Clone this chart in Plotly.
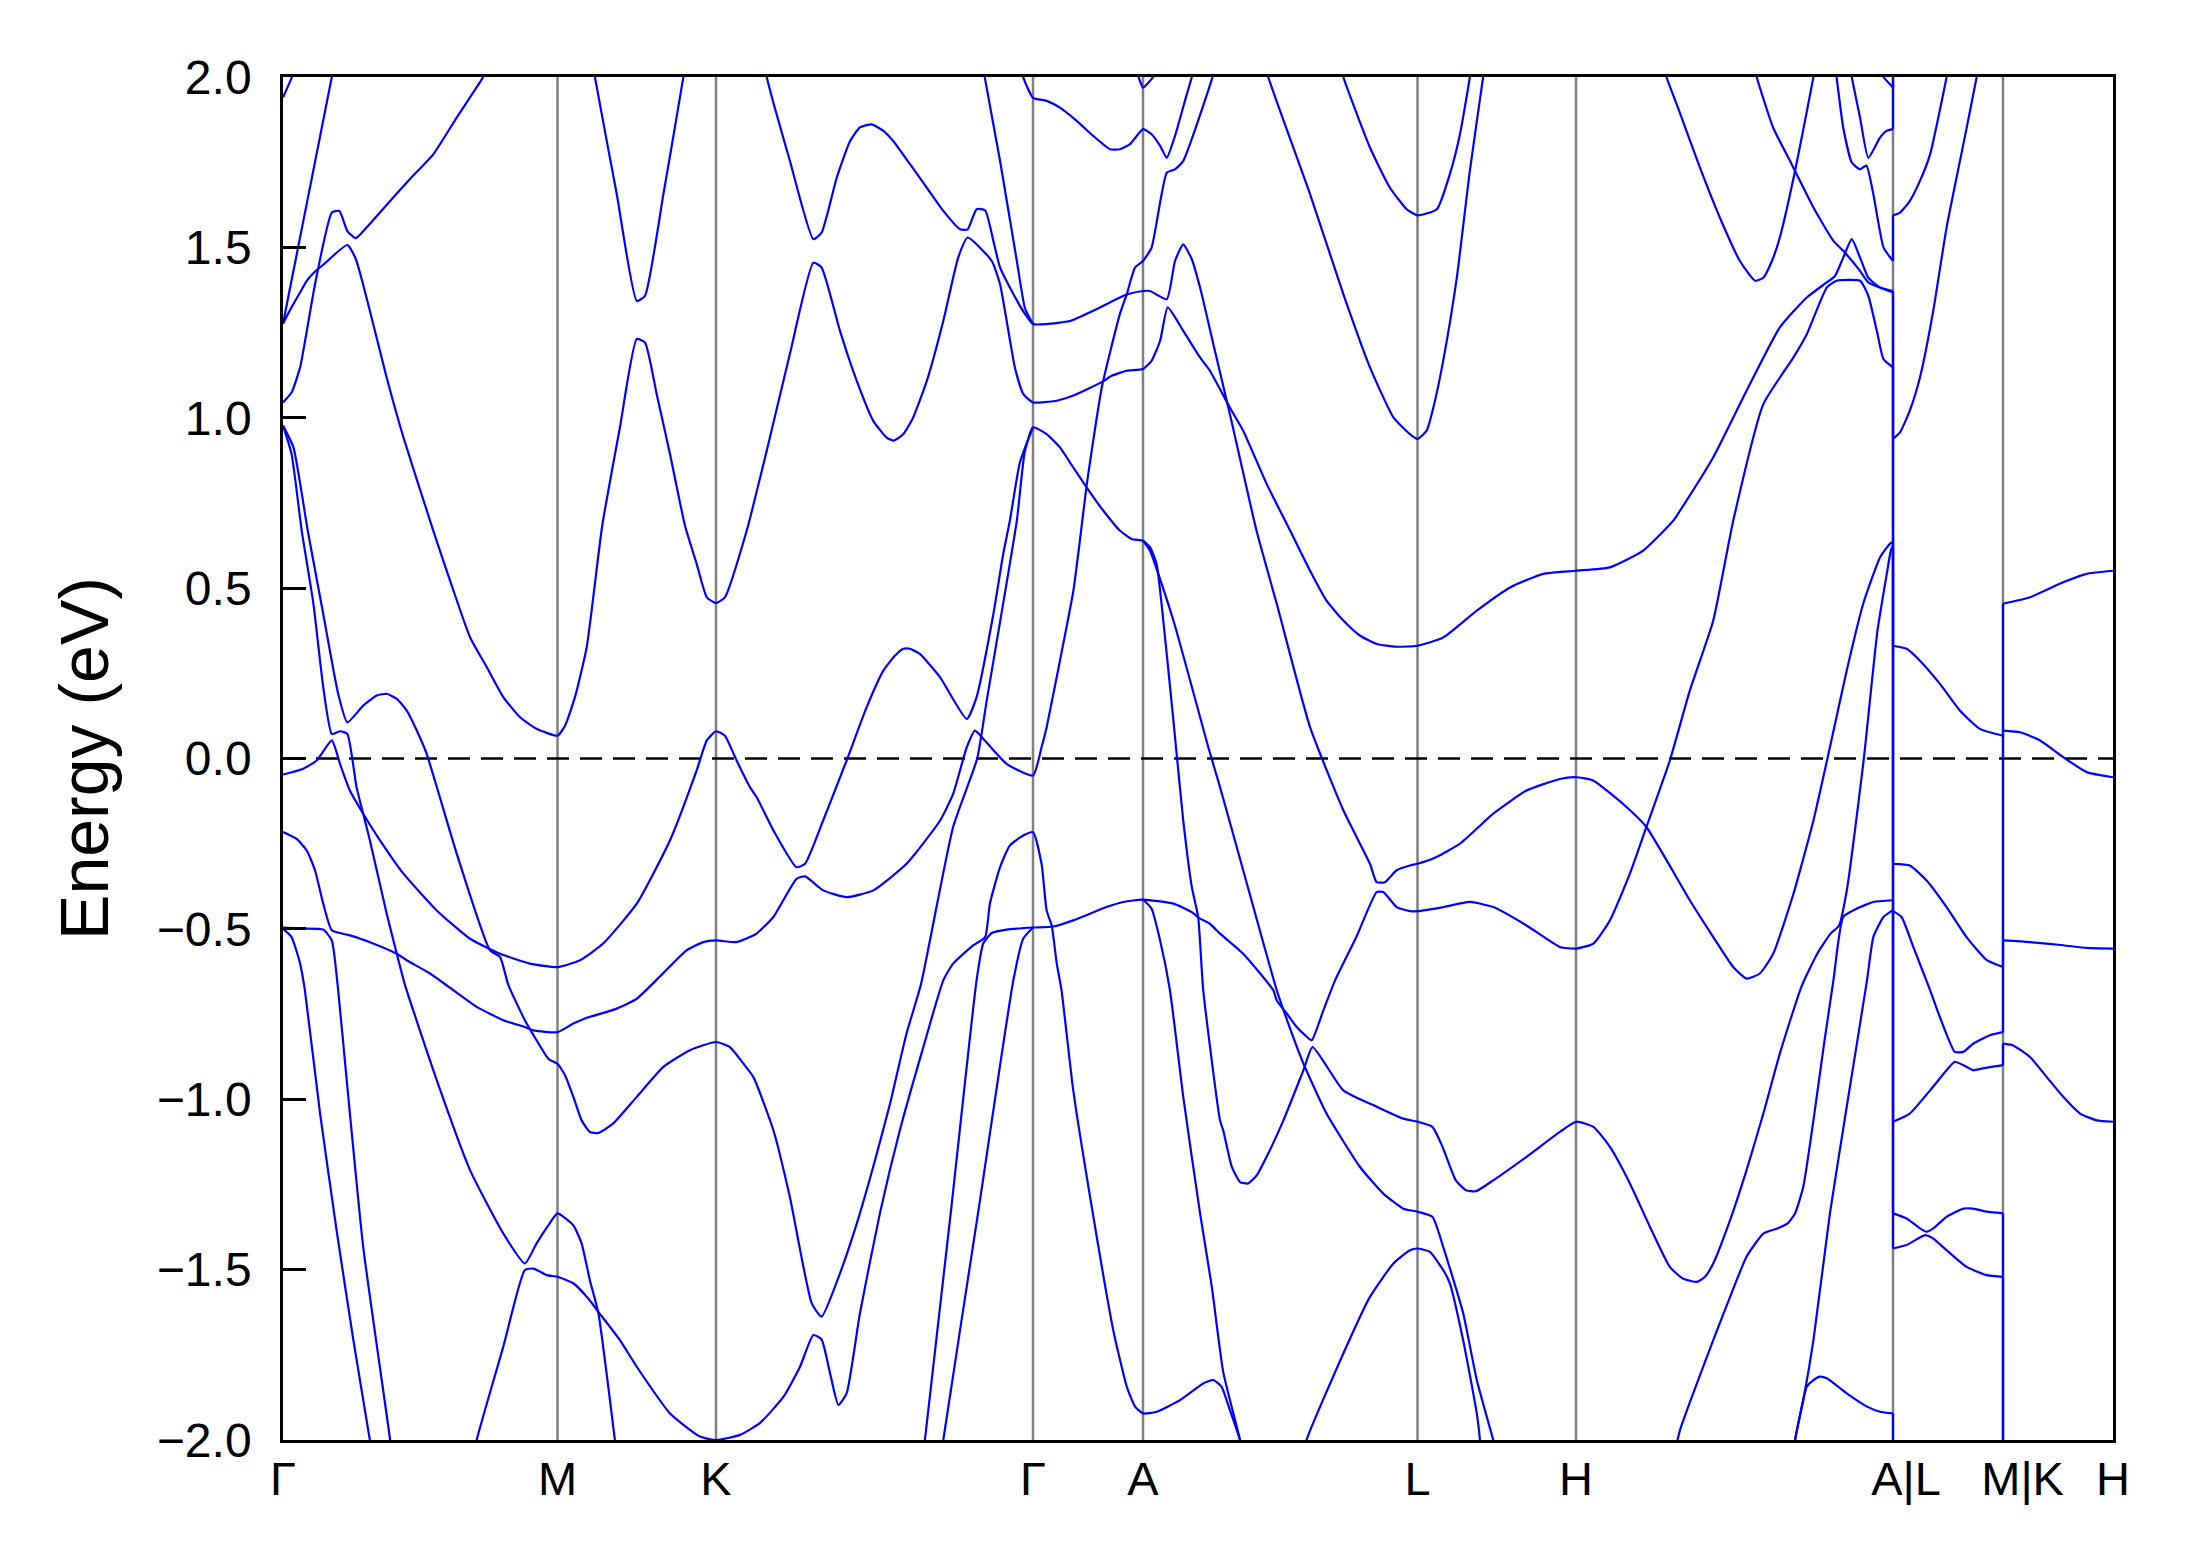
import plotly.graph_objects as go

# ---- high-symmetry path (k-distance, units of |Gamma-K| = 1) ----
tick_k = [0.0, 0.866, 1.366, 2.366, 2.713, 3.579, 4.079, 5.079, 5.426, 5.773]
tick_labels = ["Γ", "M", "K", "Γ", "A", "L", "H", "\u00a0\u00a0A|L", "\u00a0\u00a0\u00a0M|K", "H"]
y_ticks = [-2.0, -1.5, -1.0, -0.5, 0.0, 0.5, 1.0, 1.5, 2.0]
y_labels = ["−2.0", "−1.5", "−1.0", "−0.5", "0.0", "0.5", "1.0", "1.5", "2.0"]

# ---- band curves: (k, E in eV) ----
c01 = [(0.0, 1.94), (0.028, 2.0), (0.05, 2.08)]
c02 = [(0.0, 1.276), (0.154, 2.0), (0.168, 2.08)]
c03 = [(0.0, 1.276), (0.024, 1.319), (0.054, 1.368), (0.075, 1.402), (0.101, 1.429), (0.127, 1.449), (0.203, 1.507),
       (0.230, 1.465), (0.274, 1.314), (0.327, 1.118), (0.380, 0.942), (0.474, 0.669), (0.527, 0.522), (0.590, 0.356),
       (0.643, 0.268), (0.695, 0.180), (0.748, 0.121), (0.800, 0.087), (0.866, 0.067), (0.890, 0.097), (0.921, 0.180),
       (0.958, 0.326), (1.007, 0.683), (1.063, 0.972), (1.116, 1.231), (1.142, 1.221), (1.179, 1.069), (1.221, 0.893),
       (1.268, 0.684), (1.305, 0.571), (1.337, 0.473), (1.366, 0.456), (1.394, 0.473), (1.463, 0.669), (1.526, 0.903),
       (1.599, 1.187), (1.673, 1.455), (1.699, 1.441), (1.757, 1.255), (1.810, 1.108), (1.862, 0.991), (1.904, 0.942),
       (1.927, 0.933), (1.957, 0.952), (1.988, 1.001), (2.031, 1.108), (2.083, 1.284), (2.130, 1.470), (2.160, 1.529),
       (2.236, 1.460), (2.262, 1.392), (2.283, 1.284), (2.309, 1.147), (2.335, 1.070), (2.366, 1.045), (2.441, 1.050),
       (2.493, 1.065), (2.586, 1.106), (2.614, 1.123), (2.662, 1.138), (2.713, 1.143), (2.740, 1.167), (2.767, 1.226),
       (2.791, 1.324), (2.840, 1.255), (2.893, 1.177), (2.924, 1.138), (2.987, 1.030), (3.029, 0.962), (3.103, 0.806),
       (3.177, 0.669), (3.240, 0.551), (3.292, 0.463), (3.345, 0.405), (3.397, 0.361), (3.450, 0.336), (3.513, 0.328),
       (3.579, 0.331), (3.660, 0.355), (3.766, 0.434), (3.871, 0.502), (3.976, 0.542), (4.079, 0.551), (4.186, 0.561),
       (4.291, 0.61), (4.386, 0.698), (4.407, 0.727), (4.512, 0.884), (4.617, 1.079), (4.722, 1.265), (4.807, 1.353),
       (4.870, 1.397), (4.896, 1.416), (4.922, 1.470), (4.949, 1.524), (4.975, 1.470), (5.001, 1.411), (5.038, 1.382),
       (5.079, 1.368)]
c04 = [(0.0, 1.045), (0.027, 1.074), (0.054, 1.148), (0.077, 1.265), (0.101, 1.392), (0.154, 1.602), (0.178, 1.607),
       (0.203, 1.548), (0.230, 1.527), (0.27, 1.565), (0.338, 1.636), (0.40, 1.70), (0.474, 1.773), (0.548, 1.881),
       (0.627, 1.993), (0.65, 2.03)]
c05 = [(0.0, 0.977), (0.027, 0.894), (0.059, 0.669), (0.096, 0.454), (0.127, 0.209), (0.154, 0.072), (0.180, 0.080),
       (0.203, 0.072), (0.232, -0.084), (0.253, -0.162), (0.274, -0.240), (0.327, -0.455), (0.359, -0.573),
       (0.385, -0.665), (0.485, -0.944), (0.590, -1.208), (0.695, -1.394), (0.763, -1.482), (0.800, -1.423),
       (0.837, -1.370), (0.866, -1.335), (0.916, -1.370), (0.942, -1.423), (0.968, -1.531), (0.995, -1.628),
       (1.047, -2.0), (1.06, -2.1)]
c06 = [(0.0, 0.977), (0.033, 0.913), (0.078, 0.669), (0.127, 0.424), (0.174, 0.190), (0.203, 0.106), (0.253, 0.155),
       (0.296, 0.185), (0.327, 0.190), (0.359, 0.175), (0.390, 0.141), (0.422, 0.082), (0.453, 0.014), (0.548, -0.279),
       (0.653, -0.563), (0.685, -0.583), (0.711, -0.665), (0.763, -0.768), (0.800, -0.827), (0.837, -0.881),
       (0.866, -0.896), (0.890, -0.930), (0.916, -0.993), (0.942, -1.062), (0.968, -1.096), (0.995, -1.099),
       (1.042, -1.071), (1.116, -0.993), (1.200, -0.905), (1.284, -0.856), (1.366, -0.832), (1.410, -0.847),
       (1.452, -0.895), (1.484, -0.935), (1.547, -1.091), (1.599, -1.287), (1.668, -1.599), (1.699, -1.638),
       (1.757, -1.511), (1.810, -1.365), (1.862, -1.198), (1.915, -1.013), (1.967, -0.807), (2.012, -0.665),
       (2.114, -0.201), (2.19, 0.0), (2.220, 0.17), (2.315, 0.698), (2.340, 0.90), (2.366, 0.972), (2.409, 0.952),
       (2.451, 0.913), (2.493, 0.854), (2.535, 0.796), (2.588, 0.727), (2.640, 0.669), (2.677, 0.644), (2.713, 0.639),
       (2.735, 0.620), (2.756, 0.571), (2.777, 0.405), (2.809, 0.111), (2.840, -0.182), (2.867, -0.377),
       (2.887, -0.465), (2.903, -0.680), (2.956, -1.062), (2.966, -1.091), (2.993, -1.198), (3.019, -1.243),
       (3.045, -1.247), (3.072, -1.223), (3.103, -1.169), (3.156, -1.062), (3.219, -0.915), (3.248, -0.847),
       (3.345, -0.974), (3.450, -1.022), (3.534, -1.057), (3.579, -1.066), (3.626, -1.081), (3.658, -1.140),
       (3.700, -1.238), (3.732, -1.267), (3.763, -1.27), (3.818, -1.238), (3.923, -1.169), (4.028, -1.096),
       (4.079, -1.066), (4.134, -1.081), (4.186, -1.140), (4.249, -1.247), (4.312, -1.374), (4.375, -1.492),
       (4.416, -1.526), (4.460, -1.536), (4.486, -1.521), (4.512, -1.482), (4.565, -1.355), (4.617, -1.208),
       (4.670, -1.042), (4.722, -0.866), (4.790, -0.67), (4.840, -0.573), (4.882, -0.514), (4.909, -0.490),
       (4.935, -0.377), (4.987, 0.0), (5.030, 0.375), (5.061, 0.551), (5.072, 0.61), (5.079, 0.625)]
c07 = [(0.0, -0.047), (0.064, -0.030), (0.106, -0.006), (0.154, 0.053), (0.180, -0.016), (0.211, -0.094),
       (0.253, -0.162), (0.306, -0.240), (0.380, -0.338), (0.485, -0.446), (0.590, -0.529), (0.685, -0.573),
       (0.779, -0.602), (0.866, -0.612), (0.937, -0.592), (1.010, -0.543), (1.116, -0.426), (1.221, -0.240),
       (1.305, -0.035), (1.337, 0.053), (1.366, 0.080), (1.394, 0.067), (1.431, -0.006), (1.473, -0.084),
       (1.494, -0.113), (1.547, -0.211), (1.620, -0.319), (1.647, -0.309), (1.704, -0.182), (1.778, -0.006),
       (1.841, 0.150), (1.894, 0.258), (1.931, 0.302), (1.957, 0.322), (1.978, 0.322), (2.009, 0.307), (2.073, 0.238),
       (2.157, 0.116), (2.188, 0.180), (2.241, 0.424), (2.272, 0.600), (2.293, 0.698), (2.325, 0.87), (2.366, 0.972)]
c08 = [(0.0, -0.216), (0.043, -0.236), (0.075, -0.270), (0.101, -0.328), (0.127, -0.426), (0.154, -0.504),
       (0.211, -0.519), (0.274, -0.539), (0.359, -0.573), (0.390, -0.592), (0.464, -0.631), (0.611, -0.729),
       (0.695, -0.768), (0.763, -0.788), (0.790, -0.798), (0.866, -0.803), (0.916, -0.778), (0.953, -0.763),
       (1.053, -0.734), (1.116, -0.705), (1.189, -0.640), (1.273, -0.563), (1.326, -0.539), (1.366, -0.534),
       (1.431, -0.539), (1.473, -0.524), (1.494, -0.514), (1.547, -0.465), (1.620, -0.353), (1.647, -0.346),
       (1.704, -0.387), (1.778, -0.407), (1.862, -0.387), (1.967, -0.309), (2.073, -0.182), (2.114, -0.104),
       (2.157, 0.033), (2.183, 0.082), (2.209, 0.058), (2.283, -0.016), (2.366, -0.050), (2.393, 0.033),
       (2.409, 0.092), (2.451, 0.287), (2.493, 0.49), (2.514, 0.64), (2.535, 0.80), (2.583, 1.089), (2.640, 1.304),
       (2.662, 1.363), (2.688, 1.441), (2.713, 1.460), (2.740, 1.499), (2.788, 1.719), (2.814, 1.729),
       (2.840, 1.754), (2.930, 1.993), (2.94, 2.03)]
c09 = [(0.0, -0.496), (0.064, -0.499), (0.127, -0.502), (0.154, -0.534), (0.174, -0.680), (0.201, -0.944),
       (0.253, -1.433), (0.338, -2.0), (0.345, -2.06)]
c10 = [(0.0, -0.50), (0.027, -0.524), (0.054, -0.602), (0.069, -0.680), (0.117, -1.042), (0.169, -1.384),
       (0.222, -1.707), (0.274, -2.0), (0.282, -2.05)]
c11 = [(0.600, -2.06), (0.611, -2.0), (0.695, -1.726), (0.763, -1.501), (0.790, -1.497), (0.832, -1.516),
       (0.866, -1.521), (0.916, -1.540), (0.963, -1.585), (0.995, -1.624), (1.063, -1.707), (1.116, -1.785),
       (1.221, -1.922), (1.315, -1.990), (1.366, -2.0), (1.442, -1.985), (1.505, -1.95), (1.579, -1.873),
       (1.631, -1.785), (1.673, -1.692), (1.699, -1.705), (1.726, -1.805), (1.752, -1.897), (1.778, -1.863),
       (1.820, -1.628), (1.883, -1.335), (1.946, -1.091), (2.020, -0.847), (2.083, -0.651), (2.114, -0.602),
       (2.178, -0.548), (2.215, -0.524), (2.230, -0.426), (2.262, -0.319), (2.293, -0.255), (2.335, -0.226),
       (2.366, -0.216), (2.393, -0.309), (2.409, -0.446), (2.425, -0.49), (2.441, -0.602), (2.456, -0.680),
       (2.493, -0.974), (2.546, -1.286), (2.619, -1.677), (2.662, -1.844), (2.688, -1.902), (2.713, -1.922),
       (2.756, -1.917), (2.830, -1.883), (2.903, -1.834), (2.935, -1.824), (2.961, -1.844), (2.987, -1.912),
       (3.019, -2.0), (3.03, -2.05)]
c12 = [(2.02, -2.05), (2.025, -2.0), (2.107, -1.33), (2.188, -0.651), (2.209, -0.543), (2.236, -0.512),
       (2.283, -0.502), (2.366, -0.496), (2.430, -0.493), (2.493, -0.475), (2.598, -0.436), (2.651, -0.421),
       (2.713, -0.414), (2.809, -0.426), (2.867, -0.451), (2.893, -0.470), (2.924, -0.485), (2.956, -0.514),
       (3.029, -0.573), (3.124, -0.680), (3.135, -0.710), (3.167, -0.749), (3.198, -0.788), (3.224, -0.812),
       (3.245, -0.827), (3.282, -0.739), (3.319, -0.651), (3.386, -0.524), (3.450, -0.392), (3.471, -0.392),
       (3.513, -0.436), (3.555, -0.448), (3.579, -0.448), (3.660, -0.436), (3.744, -0.421), (3.818, -0.436),
       (3.923, -0.490), (4.028, -0.553), (4.079, -0.558), (4.134, -0.543), (4.186, -0.475), (4.249, -0.338),
       (4.301, -0.201), (4.375, -0.006), (4.438, 0.199), (4.512, 0.405), (4.575, 0.698), (4.670, 1.040),
       (4.765, 1.177), (4.807, 1.245), (4.870, 1.382), (4.901, 1.402), (4.975, 1.402), (5.001, 1.358),
       (5.028, 1.255), (5.049, 1.172), (5.079, 1.148)]
c13 = [(2.713, -0.414), (2.740, -0.441), (2.767, -0.534), (2.798, -0.680), (2.840, -0.993), (2.893, -1.335),
       (2.93, -1.55), (2.966, -1.80), (3.019, -2.0), (3.03, -2.06)]
c16 = [(0.975, 2.06), (0.984, 2.0), (1.053, 1.656), (1.116, 1.343), (1.142, 1.358), (1.200, 1.656), (1.263, 2.0),
       (1.27, 2.05)]
c17 = [(1.515, 2.06), (1.526, 2.0), (1.599, 1.754), (1.673, 1.524), (1.699, 1.543), (1.747, 1.705), (1.789, 1.812),
       (1.820, 1.852), (1.857, 1.861), (1.894, 1.842), (1.925, 1.812), (1.978, 1.744), (2.031, 1.675),
       (2.083, 1.607), (2.136, 1.553), (2.160, 1.553), (2.188, 1.612), (2.215, 1.609), (2.241, 1.519),
       (2.262, 1.441), (2.304, 1.363), (2.341, 1.304), (2.366, 1.275), (2.409, 1.275), (2.483, 1.284),
       (2.556, 1.314), (2.640, 1.353), (2.667, 1.363), (2.713, 1.372), (2.735, 1.372), (2.788, 1.348),
       (2.814, 1.460), (2.840, 1.509), (2.867, 1.465), (2.893, 1.382), (2.935, 1.216), (2.987, 1.011),
       (3.071, 0.669), (3.135, 0.454), (3.240, 0.092), (3.345, -0.152), (3.429, -0.309), (3.450, -0.363),
       (3.476, -0.363), (3.513, -0.328), (3.555, -0.314), (3.579, -0.309), (3.639, -0.289), (3.713, -0.250),
       (3.818, -0.162), (3.923, -0.094), (4.028, -0.060), (4.079, -0.055), (4.134, -0.065), (4.239, -0.143),
       (4.301, -0.201), (4.438, -0.416), (4.512, -0.524), (4.575, -0.612), (4.617, -0.646), (4.659, -0.631),
       (4.701, -0.573), (4.765, -0.397), (4.828, -0.182), (4.880, 0.033), (4.933, 0.258), (4.985, 0.454),
       (5.038, 0.590), (5.069, 0.63), (5.079, 0.635)]
c18 = [(2.205, 2.06), (2.215, 1.993), (2.262, 1.754), (2.315, 1.460), (2.341, 1.32), (2.366, 1.275)]
c19 = [(2.325, 2.06), (2.335, 2.0), (2.366, 1.939), (2.409, 1.930), (2.451, 1.910), (2.504, 1.871), (2.556, 1.827),
       (2.609, 1.788), (2.640, 1.788), (2.672, 1.803), (2.713, 1.847), (2.740, 1.832), (2.767, 1.798),
       (2.788, 1.763), (2.814, 1.827), (2.851, 1.949), (2.867, 2.0), (2.875, 2.05)]
c20 = [(2.69, 2.02), (2.699, 2.0), (2.713, 1.969), (2.745, 2.0), (2.755, 2.02)]
c21 = [(2.075, -2.06), (2.083, -2.0), (2.194, -1.326), (2.304, -0.651), (2.335, -0.529), (2.366, -0.496)]
c24 = [(3.33, 2.06), (3.345, 2.0), (3.429, 1.793), (3.492, 1.675), (3.545, 1.612), (3.579, 1.594), (3.640, 1.612),
       (3.681, 1.715), (3.713, 1.832), (3.744, 2.0), (3.75, 2.05)]
c25 = [(3.095, 2.05), (3.108, 2.0), (3.240, 1.656), (3.345, 1.363), (3.429, 1.148), (3.503, 1.001), (3.555, 0.952),
       (3.579, 0.938), (3.608, 0.962), (3.629, 1.030), (3.660, 1.167), (3.703, 1.411), (3.744, 1.724),
       (3.786, 2.0), (3.793, 2.05)]
c26 = [(4.35, 2.04), (4.364, 2.0), (4.407, 1.894), (4.470, 1.734), (4.533, 1.587), (4.596, 1.460), (4.644, 1.402),
       (4.670, 1.411), (4.697, 1.460), (4.722, 1.529), (4.770, 1.724), (4.828, 2.0), (4.835, 2.04)]
c27 = [(4.64, 2.04), (4.649, 2.0), (4.701, 1.851), (4.754, 1.754), (4.770, 1.724), (4.828, 1.617), (4.891, 1.519),
       (4.922, 1.490), (4.975, 1.431), (5.001, 1.397), (5.038, 1.382), (5.079, 1.372)]
c28 = [(4.897, 2.03), (4.901, 2.0), (4.922, 1.851), (4.949, 1.749), (4.975, 1.729), (4.995, 1.74), (5.017, 1.656),
       (5.049, 1.5), (5.079, 1.46)]
c29 = [(4.945, 2.03), (4.949, 2.0), (4.975, 1.881), (5.001, 1.763), (5.038, 1.822), (5.059, 1.842), (5.079, 1.847)]
c30 = [(5.04, 2.02), (5.049, 2.0), (5.079, 1.969)]
c31 = [(4.39, -2.04), (4.407, -1.971), (4.512, -1.707), (4.565, -1.580), (4.617, -1.462), (4.670, -1.394),
       (4.714, -1.379), (4.746, -1.365), (4.770, -1.335), (4.796, -1.257), (4.828, -1.062), (4.860, -0.847),
       (4.891, -0.651), (4.922, -0.465), (4.964, -0.441), (5.017, -0.421), (5.079, -0.416)]
c32 = [(4.765, -2.04), (4.770, -2.0), (4.796, -1.883), (4.828, -1.707), (4.880, -1.335), (4.933, -1.022),
       (4.997, -0.651), (5.017, -0.524), (5.049, -0.465), (5.079, -0.445)]
c33 = [(2.713, 0.639), (2.735, 0.61), (2.809, 0.405), (2.92, 0.03), (2.956, -0.084), (3.029, -0.328),
       (3.135, -0.680), (3.18, -0.80), (3.219, -0.895), (3.292, -1.042), (3.397, -1.198), (3.471, -1.277),
       (3.534, -1.321), (3.579, -1.330), (3.626, -1.345), (3.660, -1.433), (3.723, -1.628), (3.766, -1.824),
       (3.818, -2.0), (3.83, -2.04)]
c34 = [(3.22, -2.05), (3.229, -2.0), (3.345, -1.746), (3.429, -1.580), (3.503, -1.482), (3.555, -1.443),
       (3.579, -1.438), (3.618, -1.448), (3.660, -1.501), (3.681, -1.540), (3.723, -1.707), (3.766, -1.922),
       (3.776, -2.0), (3.78, -2.05)]
c35 = [(4.765, -2.04), (4.770, -2.0), (4.807, -1.844), (4.828, -1.824), (4.849, -1.814), (4.870, -1.819),
       (4.933, -1.863), (4.997, -1.902), (5.038, -1.917), (5.079, -1.922)]
# L -> M
lm1 = [(5.079, 1.594), (5.101, 1.602), (5.132, 1.636), (5.164, 1.695), (5.196, 1.773), (5.248, 2.0), (5.255, 2.04)]
lm2 = [(5.079, 0.938), (5.101, 0.957), (5.132, 1.021), (5.164, 1.118), (5.206, 1.314), (5.248, 1.558),
       (5.301, 1.803), (5.343, 2.0), (5.35, 2.04)]
lm3 = [(5.079, 0.331), (5.122, 0.322), (5.164, 0.287), (5.227, 0.219), (5.290, 0.141), (5.353, 0.087), (5.426, 0.067)]
lm4 = [(5.079, -0.309), (5.132, -0.314), (5.185, -0.358), (5.248, -0.436), (5.311, -0.524), (5.375, -0.592),
       (5.426, -0.612)]
lm5 = [(5.079, -0.448), (5.106, -0.465), (5.143, -0.553), (5.196, -0.68), (5.227, -0.759), (5.274, -0.861),
       (5.301, -0.861), (5.332, -0.837), (5.385, -0.812), (5.426, -0.803)]
lm6 = [(5.079, -1.066), (5.132, -1.042), (5.196, -0.974), (5.248, -0.915), (5.274, -0.890), (5.301, -0.900),
       (5.332, -0.915), (5.359, -0.910), (5.426, -0.90)]
lm7 = [(5.079, -1.335), (5.122, -1.350), (5.164, -1.379), (5.185, -1.389), (5.206, -1.379), (5.248, -1.345),
       (5.301, -1.321), (5.332, -1.321), (5.375, -1.330), (5.426, -1.335)]
lm8 = [(5.079, -1.438), (5.122, -1.428), (5.180, -1.399), (5.206, -1.409), (5.248, -1.443), (5.311, -1.492),
       (5.375, -1.516), (5.426, -1.521)]
# K -> H
kh1 = [(5.426, 0.454), (5.511, 0.473), (5.616, 0.517), (5.690, 0.542), (5.773, 0.551)]
kh2 = [(5.426, 0.082), (5.480, 0.077), (5.543, 0.053), (5.616, 0.004), (5.690, -0.040), (5.773, -0.055)]
kh3 = [(5.426, -0.534), (5.511, -0.539), (5.616, -0.548), (5.690, -0.556), (5.773, -0.558)]
kh4 = [(5.426, -0.837), (5.458, -0.842), (5.511, -0.876), (5.564, -0.935), (5.616, -0.993), (5.669, -1.042),
       (5.722, -1.062), (5.773, -1.066)]

# band-index pairing across the path discontinuities (energies on each side)
jump_AL_A = [1.969, 1.847, 1.460, 1.372, 1.368, 1.148, 0.635, 0.625, -0.416, -0.445, -1.922]
jump_AL_L = [2.3, 2.3, 1.594, 0.938, 0.331, -0.309, -0.448, -1.066, -1.335, -1.438, -2.3]
jump_MK_M = [0.067, -0.612, -0.803, -0.900, -1.335, -1.521]
jump_MK_K = [0.454, 0.082, -0.534, -0.837, -2.0, -2.3]

curves = [c01, c02, c03, c04, c05, c06, c07, c08, c09, c10, c11, c12, c13, c16, c17, c18, c19, c20, c21,
          c24, c25, c26, c27, c28, c29, c30, c31, c32, c33, c34, c35,
          lm1, lm2, lm3, lm4, lm5, lm6, lm7, lm8, kh1, kh2, kh3, kh4]

BLUE = "#0000ff"
LW = 2.2
FONT = "Liberation Sans, Arial, Helvetica, sans-serif"

fig = go.Figure()
for c in curves:
    fig.add_trace(go.Scatter(x=[p[0] for p in c], y=[p[1] for p in c], mode="lines",
                             line=dict(color=BLUE, width=LW, shape="spline", smoothing=0.5),
                             hoverinfo="skip", showlegend=False))

jx, jy = [], []
for a, b in zip(jump_AL_A, jump_AL_L):
    jx += [tick_k[7], tick_k[7], None]
    jy += [a, b, None]
for a, b in zip(jump_MK_M, jump_MK_K):
    jx += [tick_k[8], tick_k[8], None]
    jy += [a, b, None]
fig.add_trace(go.Scatter(x=jx, y=jy, mode="lines", line=dict(color=BLUE, width=LW),
                         hoverinfo="skip", showlegend=False))

shapes = []
for k in tick_k[1:-1]:
    shapes.append(dict(type="line", xref="x", yref="paper", x0=k, x1=k, y0=0, y1=1,
                       line=dict(color="#808080", width=2.5), layer="below"))
shapes.append(dict(type="line", xref="paper", yref="y", x0=0, x1=1, y0=0, y1=0,
                   line=dict(color="black", width=2.6, dash="22px,11px"), layer="below"))

# the page adds an 8 px body margin; the figure is sized so the plot lands where the reference has it
fig.update_layout(
    width=2175, height=1551,
    margin=dict(l=275, r=70, t=69, b=119, autoexpand=False),
    paper_bgcolor="white", plot_bgcolor="white",
    shapes=shapes,
    xaxis=dict(range=[tick_k[0], tick_k[-1]], tickvals=tick_k, ticktext=tick_labels, ticks="", tickangle=0,
               showline=True, mirror=True, linecolor="black", linewidth=2.6, showgrid=False, zeroline=False,
               tickfont=dict(family=FONT, size=47, color="black"), ticklabelstandoff=-4),
    yaxis=dict(range=[-2, 2], tickvals=y_ticks, ticktext=y_labels, ticks="inside", ticklen=23, tickwidth=2.6,
               tickcolor="black", showline=True, mirror=True, linecolor="black", linewidth=2.6,
               showgrid=False, zeroline=False,
               tickfont=dict(family=FONT, size=48, color="black"), ticklabelstandoff=19,
               title=dict(text="Energy (eV)", font=dict(family=FONT, size=68, color="black"), standoff=27)),
)

fig.write_html("out.html")
